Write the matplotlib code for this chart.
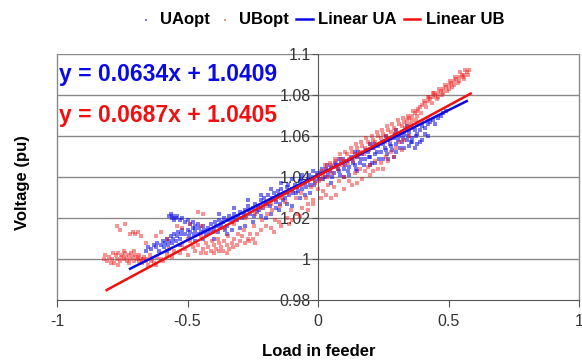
import matplotlib
matplotlib.use("Agg")
import matplotlib.pyplot as plt
import numpy as np

plt.rcParams['font.family'] = ['Liberation Sans', 'DejaVu Sans']

# UAopt scatter
ua_pts = [
    (-0.66, 1.004), (-0.65, 1.006), (-0.64, 1.005), (-0.63, 1.007), (-0.62, 1.006), (-0.615, 1.008),
    (-0.61, 1.004), (-0.60, 1.007), (-0.595, 1.009), (-0.59, 1.006), (-0.585, 1.008), (-0.58, 1.010),
    (-0.575, 1.007), (-0.57, 1.009), (-0.565, 1.011), (-0.56, 1.008), (-0.555, 1.010), (-0.55, 1.012),
    (-0.545, 1.009), (-0.54, 1.011), (-0.535, 1.013), (-0.53, 1.010), (-0.525, 1.012), (-0.52, 1.014),
    (-0.57, 1.021), (-0.565, 1.022), (-0.56, 1.020), (-0.555, 1.021), (-0.55, 1.019), (-0.545, 1.020),
    (-0.54, 1.021), (-0.53, 1.019), (-0.52, 1.020), (-0.51, 1.018), (-0.50, 1.019), (-0.49, 1.017),
    (-0.48, 1.018), (-0.47, 1.016), (-0.46, 1.017),
    (-0.51, 1.012), (-0.50, 1.014), (-0.495, 1.011), (-0.49, 1.013), (-0.48, 1.015), (-0.475, 1.012),
    (-0.47, 1.014), (-0.46, 1.012), (-0.455, 1.015), (-0.45, 1.013), (-0.44, 1.016), (-0.435, 1.014),
    (-0.43, 1.012), (-0.42, 1.015), (-0.41, 1.017), (-0.40, 1.014), (-0.395, 1.018), (-0.39, 1.016),
    (-0.38, 1.019), (-0.375, 1.015), (-0.37, 1.017), (-0.36, 1.020), (-0.35, 1.016), (-0.345, 1.019),
    (-0.34, 1.021), (-0.33, 1.018), (-0.32, 1.022), (-0.31, 1.019), (-0.30, 1.023), (-0.29, 1.020),
    (-0.28, 1.024), (-0.275, 1.021), (-0.27, 1.026), (-0.26, 1.022), (-0.25, 1.025), (-0.24, 1.027),
    (-0.235, 1.023), (-0.23, 1.026), (-0.22, 1.029), (-0.21, 1.025), (-0.20, 1.028), (-0.19, 1.031),
    (-0.185, 1.026), (-0.18, 1.029), (-0.17, 1.032), (-0.16, 1.028), (-0.15, 1.031), (-0.14, 1.034),
    (-0.135, 1.029), (-0.13, 1.032), (-0.12, 1.035), (-0.11, 1.031), (-0.10, 1.034), (-0.09, 1.036),
    (-0.085, 1.032), (-0.08, 1.035), (-0.07, 1.038), (-0.06, 1.034), (-0.05, 1.037), (-0.04, 1.039),
    (-0.03, 1.036), (-0.02, 1.040), (-0.01, 1.038), (0.00, 1.041),
    (-0.35, 1.012), (-0.30, 1.015), (-0.25, 1.018), (-0.22, 1.021), (-0.18, 1.022), (-0.15, 1.024),
    (-0.12, 1.027), (-0.10, 1.026), (-0.07, 1.030), (-0.05, 1.031), (-0.03, 1.032), (-0.40, 1.010),
    (-0.33, 1.014), (-0.28, 1.016), (-0.20, 1.020), (-0.16, 1.025),
    (-0.38, 1.022), (-0.32, 1.025), (-0.27, 1.029), (-0.22, 1.031), (-0.18, 1.034), (-0.14, 1.037),
    (-0.10, 1.039), (-0.06, 1.041), (-0.02, 1.043),
    (0.01, 1.042), (0.02, 1.039), (0.03, 1.044), (0.04, 1.041), (0.05, 1.045), (0.06, 1.042),
    (0.07, 1.046), (0.08, 1.043), (0.09, 1.047), (0.10, 1.044), (0.11, 1.048), (0.12, 1.045),
    (0.13, 1.049), (0.14, 1.046), (0.15, 1.050), (0.16, 1.047), (0.17, 1.051), (0.18, 1.049),
    (0.19, 1.052), (0.20, 1.050), (0.21, 1.054), (0.22, 1.051), (0.23, 1.055), (0.24, 1.052),
    (0.25, 1.056), (0.26, 1.053), (0.27, 1.058), (0.28, 1.055), (0.29, 1.059), (0.30, 1.056),
    (0.31, 1.060), (0.32, 1.057), (0.33, 1.061), (0.34, 1.058), (0.35, 1.062), (0.36, 1.059),
    (0.37, 1.063), (0.38, 1.061), (0.40, 1.065), (0.42, 1.066), (0.44, 1.068), (0.46, 1.069),
    (0.48, 1.071),
    (0.05, 1.037), (0.10, 1.040), (0.15, 1.043), (0.20, 1.046), (0.25, 1.049), (0.30, 1.052),
    (0.33, 1.054), (0.35, 1.055), (0.36, 1.057), (0.38, 1.056), (0.40, 1.058), (0.42, 1.060),
    (0.12, 1.041), (0.22, 1.047),
    (0.08, 1.049), (0.14, 1.052), (0.20, 1.056), (0.26, 1.060), (0.30, 1.063), (0.34, 1.065),
    (-0.58, 1.004), (-0.53, 1.007), (-0.47, 1.009), (-0.44, 1.010), (-0.415, 1.013), (-0.385, 1.013),
    (-0.365, 1.018), (-0.355, 1.014), (-0.325, 1.020), (-0.305, 1.021), (-0.285, 1.022), (-0.265, 1.024),
    (-0.245, 1.021), (-0.225, 1.024), (-0.205, 1.030), (-0.195, 1.027), (-0.175, 1.030), (-0.155, 1.033),
    (-0.145, 1.027), (-0.125, 1.030), (-0.115, 1.036), (-0.095, 1.032), (-0.075, 1.033), (-0.065, 1.039),
    (-0.045, 1.035), (-0.035, 1.041), (-0.015, 1.036), (-0.005, 1.042), (0.005, 1.039), (0.015, 1.044),
    (0.025, 1.040), (0.035, 1.046), (0.045, 1.043), (0.055, 1.040), (0.065, 1.047), (0.075, 1.044),
    (0.085, 1.041), (0.095, 1.049), (0.105, 1.046), (0.115, 1.043), (0.125, 1.050), (0.135, 1.047),
    (0.145, 1.044), (0.155, 1.052), (0.165, 1.049), (0.175, 1.046), (0.185, 1.053), (0.195, 1.050),
    (0.205, 1.047), (0.215, 1.056), (0.225, 1.052), (0.235, 1.049), (0.245, 1.057), (0.255, 1.054),
    (0.265, 1.051), (0.275, 1.056), (0.285, 1.053), (0.295, 1.061), (0.305, 1.058), (0.315, 1.054),
    (0.325, 1.059), (0.345, 1.060), (0.355, 1.057), (0.375, 1.060), (0.39, 1.063), (0.41, 1.064),
    (0.43, 1.067), (0.45, 1.066), (0.47, 1.070), (0.49, 1.072), (0.37, 1.054), (0.39, 1.057),
    (0.41, 1.061), (0.29, 1.050), (0.27, 1.049),
]

# UBopt scatter
ub_pts = [
    (-0.82, 1.000), (-0.81, 0.999), (-0.80, 1.001), (-0.79, 1.000), (-0.78, 0.998), (-0.775, 1.002),
    (-0.77, 1.000), (-0.765, 1.003), (-0.76, 0.999), (-0.755, 1.001), (-0.75, 1.002), (-0.745, 1.000),
    (-0.74, 1.003), (-0.735, 1.001), (-0.73, 0.999), (-0.725, 1.002), (-0.72, 1.000), (-0.715, 1.003),
    (-0.71, 1.001), (-0.705, 0.999), (-0.70, 1.002), (-0.695, 1.000), (-0.69, 1.001), (-0.685, 0.999),
    (-0.68, 1.000), (-0.675, 0.998), (-0.67, 1.000), (-0.66, 0.999), (-0.65, 0.997), (-0.64, 0.999),
    (-0.63, 0.998),
    (-0.77, 1.016), (-0.76, 1.014), (-0.74, 1.017), (-0.72, 1.012), (-0.71, 1.013), (-0.70, 1.012),
    (-0.69, 1.013), (-0.68, 1.011), (-0.66, 1.008), (-0.62, 1.011), (-0.60, 1.013), (-0.58, 1.010),
    (-0.54, 1.016), (-0.52, 1.015), (-0.49, 1.017), (-0.45, 1.016), (-0.46, 1.023), (-0.44, 1.022),
    (-0.62, 0.997), (-0.60, 1.000), (-0.58, 1.002), (-0.56, 1.001), (-0.55, 1.004), (-0.53, 1.003),
    (-0.51, 1.005), (-0.50, 1.002), (-0.48, 1.006), (-0.47, 1.004), (-0.46, 1.007), (-0.45, 1.003),
    (-0.44, 1.005), (-0.43, 1.008), (-0.42, 1.006), (-0.41, 1.004), (-0.40, 1.007), (-0.39, 1.005),
    (-0.38, 1.008), (-0.37, 1.006), (-0.36, 1.009), (-0.35, 1.007), (-0.34, 1.005), (-0.33, 1.008),
    (-0.32, 1.010), (-0.31, 1.007), (-0.30, 1.009), (-0.29, 1.011), (-0.28, 1.008), (-0.27, 1.010),
    (-0.26, 1.012), (-0.25, 1.010),
    (-0.50, 1.010), (-0.45, 1.011), (-0.40, 1.013), (-0.36, 1.015), (-0.32, 1.017), (-0.28, 1.020),
    (-0.24, 1.022), (-0.22, 1.025), (-0.20, 1.026), (-0.18, 1.027), (-0.16, 1.029), (-0.14, 1.030),
    (-0.12, 1.032), (-0.10, 1.033), (-0.08, 1.035), (-0.06, 1.036), (-0.04, 1.038), (-0.02, 1.039),
    (-0.22, 1.014), (-0.20, 1.016), (-0.18, 1.015), (-0.15, 1.018), (-0.12, 1.020), (-0.10, 1.019),
    (-0.08, 1.022), (-0.06, 1.025), (-0.04, 1.024), (-0.02, 1.027),
    (0.00, 1.041), (0.01, 1.043), (0.02, 1.041), (0.03, 1.044), (0.04, 1.043), (0.05, 1.046),
    (0.06, 1.045), (0.07, 1.048), (0.08, 1.046), (0.09, 1.049), (0.10, 1.048), (0.11, 1.051),
    (0.12, 1.049), (0.13, 1.052), (0.14, 1.051), (0.15, 1.054), (0.16, 1.052), (0.17, 1.055),
    (0.18, 1.054), (0.19, 1.057), (0.20, 1.056), (0.21, 1.058), (0.22, 1.057), (0.23, 1.060),
    (0.24, 1.059), (0.25, 1.061), (0.26, 1.060), (0.27, 1.063), (0.28, 1.062), (0.29, 1.064),
    (0.30, 1.063), (0.31, 1.066), (0.32, 1.065), (0.33, 1.067), (0.34, 1.068), (0.35, 1.069),
    (0.36, 1.070), (0.37, 1.071), (0.38, 1.072), (0.39, 1.074), (0.40, 1.075), (0.41, 1.076),
    (0.42, 1.077), (0.43, 1.078), (0.44, 1.079), (0.45, 1.080), (0.46, 1.081), (0.47, 1.082),
    (0.48, 1.083), (0.49, 1.084), (0.50, 1.085), (0.51, 1.086), (0.52, 1.087), (0.53, 1.088),
    (0.54, 1.089), (0.55, 1.090), (0.56, 1.090), (0.57, 1.091), (0.58, 1.092),
    (0.42, 1.079), (0.44, 1.081), (0.46, 1.079), (0.48, 1.081), (0.50, 1.083), (0.52, 1.085),
    (0.54, 1.087), (0.56, 1.088), (0.38, 1.070), (0.36, 1.068), (0.34, 1.066),
    (0.28, 1.059), (0.30, 1.061), (0.32, 1.062), (0.34, 1.063), (0.36, 1.064), (0.38, 1.066),
    (0.40, 1.067), (0.42, 1.069),
    (0.00, 1.034), (0.02, 1.033), (0.04, 1.036), (0.06, 1.035), (0.08, 1.038), (0.10, 1.040),
    (0.12, 1.038), (0.14, 1.042), (0.16, 1.044), (0.18, 1.043), (0.20, 1.046), (0.22, 1.048),
    (0.24, 1.047), (0.26, 1.050), (0.28, 1.052), (0.30, 1.054), (0.32, 1.053), (0.05, 1.030),
    (0.10, 1.034), (0.15, 1.037), (0.20, 1.041), (0.25, 1.044), (-0.02, 1.029), (0.23, 1.044),
    (-0.815, 1.002), (-0.795, 0.998), (-0.785, 1.003), (-0.765, 0.997), (-0.745, 1.004), (-0.725, 0.998),
    (-0.705, 1.004), (-0.685, 1.002), (-0.665, 1.001), (-0.655, 1.000), (-0.645, 1.002), (-0.635, 1.000),
    (-0.615, 1.001), (-0.595, 0.999), (-0.57, 1.005), (-0.52, 1.007), (-0.49, 1.009), (-0.43, 1.003),
    (-0.405, 1.009), (-0.385, 1.010), (-0.365, 1.004), (-0.345, 1.011), (-0.325, 1.006), (-0.305, 1.012),
    (-0.285, 1.014), (-0.265, 1.009), (-0.245, 1.016), (-0.235, 1.012), (-0.215, 1.019), (-0.195, 1.022),
    (-0.175, 1.024), (-0.165, 1.019), (-0.145, 1.026), (-0.125, 1.028), (-0.105, 1.024), (-0.085, 1.030),
    (-0.065, 1.032), (-0.045, 1.030), (-0.025, 1.035), (-0.01, 1.037), (0.005, 1.038), (0.015, 1.039),
    (0.025, 1.046), (0.035, 1.040), (0.045, 1.047), (0.055, 1.042), (0.065, 1.049), (0.075, 1.044),
    (0.085, 1.051), (0.095, 1.046), (0.105, 1.052), (0.115, 1.047), (0.125, 1.054), (0.135, 1.048),
    (0.145, 1.056), (0.155, 1.050), (0.165, 1.057), (0.175, 1.051), (0.185, 1.059), (0.195, 1.053),
    (0.205, 1.060), (0.215, 1.054), (0.225, 1.062), (0.235, 1.056), (0.245, 1.063), (0.255, 1.057),
    (0.265, 1.065), (0.275, 1.058), (0.285, 1.066), (0.295, 1.060), (0.305, 1.068), (0.315, 1.061),
    (0.325, 1.069), (0.335, 1.064), (0.345, 1.070), (0.355, 1.066), (0.365, 1.072), (0.375, 1.068),
    (0.385, 1.073), (0.395, 1.071), (0.405, 1.077), (0.415, 1.074), (0.425, 1.079), (0.435, 1.076),
    (0.445, 1.081), (0.455, 1.078), (0.465, 1.083), (0.475, 1.080), (0.485, 1.085), (0.495, 1.082),
    (0.505, 1.087), (0.515, 1.084), (0.525, 1.089), (0.535, 1.086), (0.545, 1.091), (0.555, 1.089),
    (0.565, 1.092), (0.575, 1.090),
    (0.07, 1.031), (0.13, 1.036), (0.17, 1.039), (0.19, 1.045), (0.21, 1.043), (0.27, 1.048),
    (0.29, 1.050), (0.31, 1.057), (0.33, 1.058), (0.35, 1.060), (0.03, 1.031), (0.01, 1.030),
    (-0.04, 1.027), (-0.07, 1.021), (-0.11, 1.017), (-0.14, 1.016), (-0.17, 1.013), (-0.24, 1.008),
    (-0.35, 1.003), (-0.38, 1.004), (-0.40, 1.003),
]

# trend lines: slope, intercept, x range
ua_fit = (0.0634, 1.0409)
ub_fit = (0.0687, 1.0405)
ua_xrange = (-0.72, 0.57)
ub_xrange = (-0.81, 0.585)

x_ticks = [-1, -0.5, 0, 0.5, 1]
x_ticklabels = ['-1', '-0.5', '0', '0.5', '1']
y_ticks = [0.98, 1.0, 1.02, 1.04, 1.06, 1.08, 1.1]
y_ticklabels = ['0.98', '1', '1.02', '1.04', '1.06', '1.08', '1.1']

blue = '#0a0ae6'
red = '#f01010'
grid_gray = '#8a8a8a'

fig = plt.figure(figsize=(5.82, 3.62), dpi=100)
ax = fig.add_axes([57 / 582, 62 / 362, 522 / 582, 246 / 362])

ua = np.array(ua_pts)
ub = np.array(ub_pts)
ax.scatter(ua[:, 0], ua[:, 1], s=6, marker='s', color=blue, alpha=0.55, linewidths=0, label='UAopt', zorder=3)
ax.scatter(ub[:, 0], ub[:, 1], s=6, marker='s', color=red, alpha=0.45, linewidths=0, label='UBopt', zorder=3)

xa = np.array(ua_xrange)
xb = np.array(ub_xrange)
ax.plot(xa, ua_fit[0] * xa + ua_fit[1], color=blue, lw=1.8, label='Linear UA', zorder=4)
ax.plot(xb, ub_fit[0] * xb + ub_fit[1], color=red, lw=1.8, label='Linear UB', zorder=4)

ax.set_xlim(-1, 1)
ax.set_ylim(0.98, 1.1)
ax.set_yticks(y_ticks)
ax.set_yticklabels(y_ticklabels)
ax.set_xticks(x_ticks)
ax.set_xticklabels(x_ticklabels)

for y in y_ticks[1:]:
    ax.axhline(y, color=grid_gray, lw=1.0, zorder=1)
ax.axvline(-1, color=grid_gray, lw=1.0, clip_on=False, zorder=1)
ax.axvline(1, color=grid_gray, lw=1.0, clip_on=False, zorder=1)

ax.spines['left'].set_position(('data', 0))
ax.spines['left'].set_color('#555555')
ax.spines['bottom'].set_color('#555555')
ax.spines['top'].set_visible(False)
ax.spines['right'].set_visible(False)
ax.tick_params(axis='both', colors='#555555', labelcolor='#333333', labelsize=11.5)
ax.tick_params(axis='x', length=5, pad=5)
ax.tick_params(axis='y', length=4, pad=1)

ax.text(0.004, 0.915, 'y = 0.0634x + 1.0409', transform=ax.transAxes, color=blue,
        fontsize=16.5, fontweight='bold', ha='left', va='center')
ax.text(0.004, 0.752, 'y = 0.0687x + 1.0405', transform=ax.transAxes, color=red,
        fontsize=16.5, fontweight='bold', ha='left', va='center')

fig.text(0.038, 0.497, 'Voltage (pu)', rotation=90, ha='center', va='center',
         fontsize=12, fontweight='bold')
fig.text(0.547, 0.028, 'Load in feeder', ha='center', va='center',
         fontsize=12, fontweight='bold')

fig.legend(loc='center', bbox_to_anchor=(0.552, 0.945), ncol=4, frameon=False,
           prop={'weight': 'bold', 'size': 12}, handlelength=1.0, handletextpad=0.35,
           columnspacing=0.4, markerscale=0.8)

fig.savefig('out.png', dpi=100)
